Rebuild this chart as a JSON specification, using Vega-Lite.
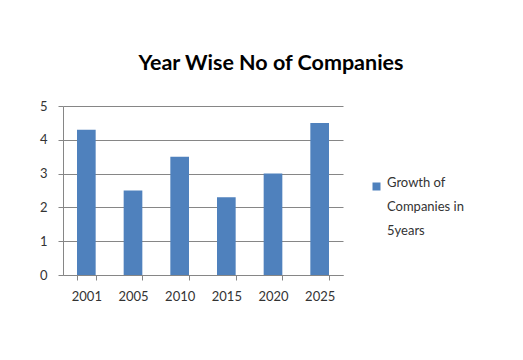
{
  "$schema": "https://vega.github.io/schema/vega-lite/v6.json",
  "autosize": {"type": "none"},
  "width": 280,
  "height": 169,
  "padding": {"left": 63, "top": 106, "right": 180, "bottom": 85},
  "background": "white",
  "title": {
    "text": "Year Wise No of Companies",
    "font": "Lato",
    "fontSize": 21.5,
    "fontWeight": "bold",
    "color": "#000000",
    "anchor": "middle",
    "dx": 68,
    "offset": 26
  },
  "data": {
    "values": [
      {"year": "2001", "value": 4.3, "series": "Growth of Companies in 5years"},
      {"year": "2005", "value": 2.5, "series": "Growth of Companies in 5years"},
      {"year": "2010", "value": 3.5, "series": "Growth of Companies in 5years"},
      {"year": "2015", "value": 2.3, "series": "Growth of Companies in 5years"},
      {"year": "2020", "value": 3.0, "series": "Growth of Companies in 5years"},
      {"year": "2025", "value": 4.5, "series": "Growth of Companies in 5years"}
    ]
  },
  "mark": {"type": "bar"},
  "encoding": {
    "x": {
      "field": "year",
      "type": "nominal",
      "title": null,
      "scale": {"paddingInner": 0.6, "paddingOuter": 0.3},
      "axis": {
        "labelAngle": 0,
        "tickBand": "extent",
        "tickSize": 5,
        "labelPadding": 10,
        "grid": false
      }
    },
    "y": {
      "field": "value",
      "type": "quantitative",
      "title": null,
      "scale": {"domain": [0, 5], "nice": false},
      "axis": {"values": [0, 1, 2, 3, 4, 5], "tickSize": 5, "labelPadding": 11, "grid": true}
    },
    "color": {
      "field": "series",
      "type": "nominal",
      "scale": {"range": ["#4F81BD"]},
      "legend": {
        "title": null,
        "orient": "none",
        "legendX": 307,
        "legendY": 74,
        "symbolType": "square",
        "symbolSize": 64,
        "symbolStrokeWidth": 0,
        "labelExpr": "['Growth of', 'Companies in', '5years']",
        "labelBaseline": "alphabetic",
        "labelOffset": 4
      }
    }
  },
  "config": {
    "view": {"stroke": null},
    "font": "Lato",
    "axis": {
      "labelFont": "Lato",
      "labelFontSize": 13,
      "labelColor": "#333333",
      "domainColor": "#868686",
      "tickColor": "#868686",
      "gridColor": "#868686",
      "gridOpacity": 1,
      "domainWidth": 1,
      "tickWidth": 1
    },
    "legend": {
      "labelFont": "Lato",
      "labelFontSize": 13,
      "labelColor": "#333333",
      "labelLimit": 200
    },
    "style": {"guide-label": {"lineHeight": 24}}
  }
}
